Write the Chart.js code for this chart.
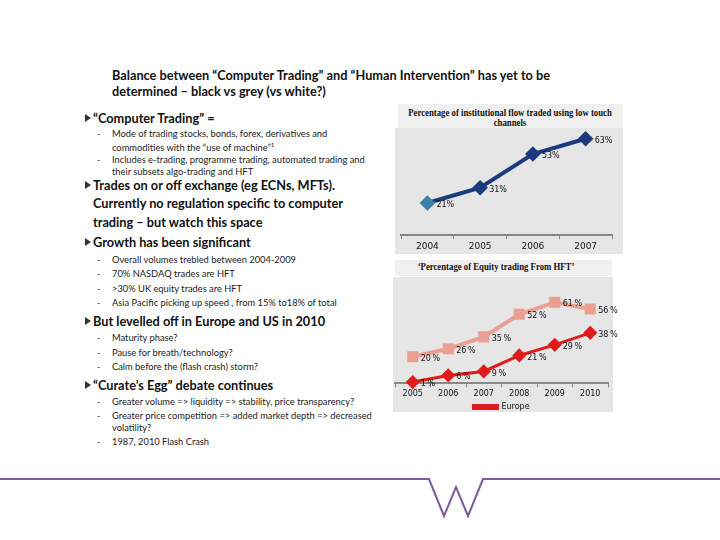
<!DOCTYPE html>
<html>
<head>
<meta charset="utf-8">
<script src="https://cdn.jsdelivr.net/npm/chart.js@4.4.0/dist/chart.umd.min.js"></script>
<style>
  body { margin:0; width:720px; height:540px; background:#fff; position:relative; overflow:hidden; font-family:Lato, "Noto Sans", sans-serif; color:#111; }
  .t { position:absolute; white-space:nowrap; line-height:1; transform-origin:0 50%; }
  .head { font-weight:bold; font-size:12.5px; transform:scaleX(1.02); }
  .main { font-weight:bold; font-size:14px; transform:scaleX(0.91); }
  .sub { font-size:9.5px; transform:scaleX(0.98); color:#222; }
  .dash { position:absolute; font-size:9px; color:#333; line-height:1; }
  .arr { position:absolute; width:0; height:0; border-top:4px solid transparent; border-bottom:4px solid transparent; border-left:6px solid #333; }
  .ctitle { position:absolute; background:#f0f0f0; }
  .ct { position:absolute; white-space:nowrap; font-family:"Liberation Serif", serif; font-weight:bold; font-size:9.5px; line-height:1; color:#111; transform-origin:50% 50%; transform:translateX(-50%) scaleX(0.92); }
  .panel { position:absolute; background:#e6e6e6; }
</style>
</head>
<body>
<div class="t head" style="left:112px; top:70px;">Balance between “Computer Trading” and “Human Intervention” has yet to be</div>
<div class="t head" style="left:112px; top:86px;">determined – black vs grey (vs white?)</div>

<div class="arr" style="left:85px; top:114px;"></div>
<div class="t main" style="left:93px; top:111px;">“Computer Trading”  =</div>
<div class="dash" style="left:97px; top:129px;">-</div>
<div class="t sub" style="left:112px; top:129px;">Mode of trading stocks, bonds, forex, derivatives and</div>
<div class="t sub" style="left:112px; top:143px;">commodities  with the “use of machine”¹</div>
<div class="dash" style="left:97px; top:155px;">-</div>
<div class="t sub" style="left:112px; top:155px;">Includes e-trading, programme trading, automated trading and</div>
<div class="t sub" style="left:112px; top:167px;">their subsets algo-trading and  HFT</div>

<div class="arr" style="left:85px; top:181px;"></div>
<div class="t main" style="left:93px; top:178px;">Trades on or off exchange (eg ECNs, MFTs).</div>
<div class="t main" style="left:93px; top:196px;">Currently no regulation specific to computer</div>
<div class="t main" style="left:93px; top:215px;">trading – but watch this space</div>
<div class="arr" style="left:85px; top:238px;"></div>
<div class="t main" style="left:93px; top:235px;">Growth has been significant</div>

<div class="dash" style="left:97px; top:255px;">-</div>
<div class="t sub" style="left:112px; top:255px;">Overall volumes trebled  between 2004-2009</div>
<div class="dash" style="left:97px; top:269px;">-</div>
<div class="t sub" style="left:112px; top:269px;">70% NASDAQ trades are HFT</div>
<div class="dash" style="left:97px; top:284px;">-</div>
<div class="t sub" style="left:112px; top:284px;">&gt;30% UK equity trades are HFT</div>
<div class="dash" style="left:97px; top:298px;">-</div>
<div class="t sub" style="left:112px; top:298px;">Asia Pacific  picking up speed , from 15% to18% of total</div>

<div class="arr" style="left:85px; top:317px;"></div>
<div class="t main" style="left:93px; top:314px;">But levelled off in Europe and US in 2010</div>
<div class="dash" style="left:97px; top:333px;">-</div>
<div class="t sub" style="left:112px; top:333px;">Maturity phase?</div>
<div class="dash" style="left:97px; top:348px;">-</div>
<div class="t sub" style="left:112px; top:348px;">Pause for breath/technology?</div>
<div class="dash" style="left:97px; top:362px;">-</div>
<div class="t sub" style="left:112px; top:362px;">Calm before the (flash crash) storm?</div>

<div class="arr" style="left:85px; top:381px;"></div>
<div class="t main" style="left:93px; top:378px;">“Curate’s Egg” debate continues</div>
<div class="dash" style="left:97px; top:397px;">-</div>
<div class="t sub" style="left:112px; top:397px;">Greater volume =&gt; liquidity =&gt; stability, price transparency?</div>
<div class="dash" style="left:97px; top:411px;">-</div>
<div class="t sub" style="left:112px; top:411px;">Greater price competition =&gt; added market depth =&gt; decreased</div>
<div class="t sub" style="left:112px; top:423px;">volatility?</div>
<div class="dash" style="left:97px; top:437px;">-</div>
<div class="t sub" style="left:112px; top:437px;">1987, 2010 Flash Crash</div>

<div class="ctitle" style="left:398px; top:104px; width:225px; height:24px;"></div>
<div class="ct" style="left:510px; top:109px;">Percentage of institutional flow traded using low touch</div>
<div class="ct" style="left:510px; top:119px;">channels</div>
<div class="panel" style="left:395px; top:128px; width:228px; height:126px;"></div>
<canvas id="chart1" style="position:absolute; left:395px; top:128px;" width="228" height="126"></canvas>

<div class="ctitle" style="left:395px; top:260px; width:217px; height:16px;"></div>
<div class="ct" style="left:496px; top:263px;">‘Percentage of Equity trading From HFT’</div>
<div class="panel" style="left:393px; top:277px; width:220px; height:135px;"></div>
<canvas id="chart2" style="position:absolute; left:393px; top:277px;" width="230" height="135"></canvas>

<svg style="position:absolute; left:0; top:0;" width="720" height="540">
  <polyline points="0,479 429,479 444,516 456,487 468,516 483,479 720,479" fill="none" stroke="#7b5a98" stroke-width="2"/>
</svg>

<script>
var years1 = ["2004", "2005", "2006", "2007"];
var lowTouch = [21, 31, 53, 63];

var years2 = ["2005", "2006", "2007", "2008", "2009", "2010"];
var usHft = [20, 26, 35, 52, 61, 56];
var europeHft = [1, 6, 9, 21, 29, 38];

// draws "xx%" next to every point
var pctLabels = {
  id: "pctLabels",
  afterDatasetsDraw: function(chart, args, opts) {
    var ctx = chart.ctx;
    ctx.save();
    ctx.font = "8px 'DejaVu Sans'";
    ctx.fillStyle = "#111";
    ctx.textBaseline = "middle";
    chart.data.datasets.forEach(function(ds, i) {
      chart.getDatasetMeta(i).data.forEach(function(pt, j) {
        ctx.fillText(ds.data[j] + opts.suffix, pt.x + opts.dx, pt.y + opts.dy);
      });
    });
    ctx.restore();
  }
};

function xAxis(size, pad) {
  return {
    offset: true,
    border: { display: true, color: "#888", width: 2 },
    grid: { offset: true, drawOnChartArea: false, color: "#888", tickLength: 4, lineWidth: 1 },
    ticks: { color: "#111", padding: pad, font: { family: "DejaVu Sans", size: size } }
  };
}

new Chart(document.getElementById("chart1"), {
  type: "line",
  data: {
    labels: years1,
    datasets: [{
      data: lowTouch,
      borderColor: "#1c3a7e",
      borderWidth: 4,
      pointStyle: "rectRot",
      pointRadius: 5,
      pointBackgroundColor: ["#3a7fa6", "#1c3a7e", "#1c3a7e", "#1c3a7e"],
      pointBorderColor: ["#3a7fa6", "#1c3a7e", "#1c3a7e", "#1c3a7e"],
      tension: 0,
      clip: false
    }]
  },
  options: {
    responsive: false,
    animation: false,
    layout: { autoPadding: false, padding: { left: 6, right: 11, top: 0, bottom: 0 } },
    scales: {
      x: xAxis(9, 2),
      y: { display: false, min: 0, max: 70 }
    },
    plugins: {
      legend: { display: false },
      tooltip: { enabled: false },
      pctLabels: { suffix: "%", dx: 9, dy: 2 }
    }
  },
  plugins: [pctLabels]
});

new Chart(document.getElementById("chart2"), {
  type: "line",
  data: {
    labels: years2,
    datasets: [{
      label: "US",
      data: usHft,
      borderColor: "#e9a092",
      backgroundColor: "#e9a092",
      borderWidth: 4,
      pointStyle: "rect",
      pointRadius: 5,
      tension: 0,
      clip: false
    }, {
      label: "Europe",
      data: europeHft,
      borderColor: "#e01b1b",
      backgroundColor: "#e01b1b",
      borderWidth: 3,
      pointStyle: "rectRot",
      pointRadius: 5,
      tension: 0,
      clip: false
    }]
  },
  options: {
    responsive: false,
    animation: false,
    layout: { autoPadding: false, padding: { left: 2, right: 15, top: 0, bottom: -9 } },
    scales: {
      x: xAxis(8, 2),
      y: { display: false, min: 0, max: 80 }
    },
    plugins: {
      legend: {
        position: "bottom",
        labels: {
          filter: function(item) { return item.datasetIndex === 1; },
          boxWidth: 24, boxHeight: 3, padding: 2,
          color: "#111",
          font: { family: "DejaVu Sans", size: 8 }
        }
      },
      tooltip: { enabled: false },
      pctLabels: { suffix: "\u2009%", dx: 8, dy: 2 }
    }
  },
  plugins: [pctLabels]
});
</script>
</body>
</html>
